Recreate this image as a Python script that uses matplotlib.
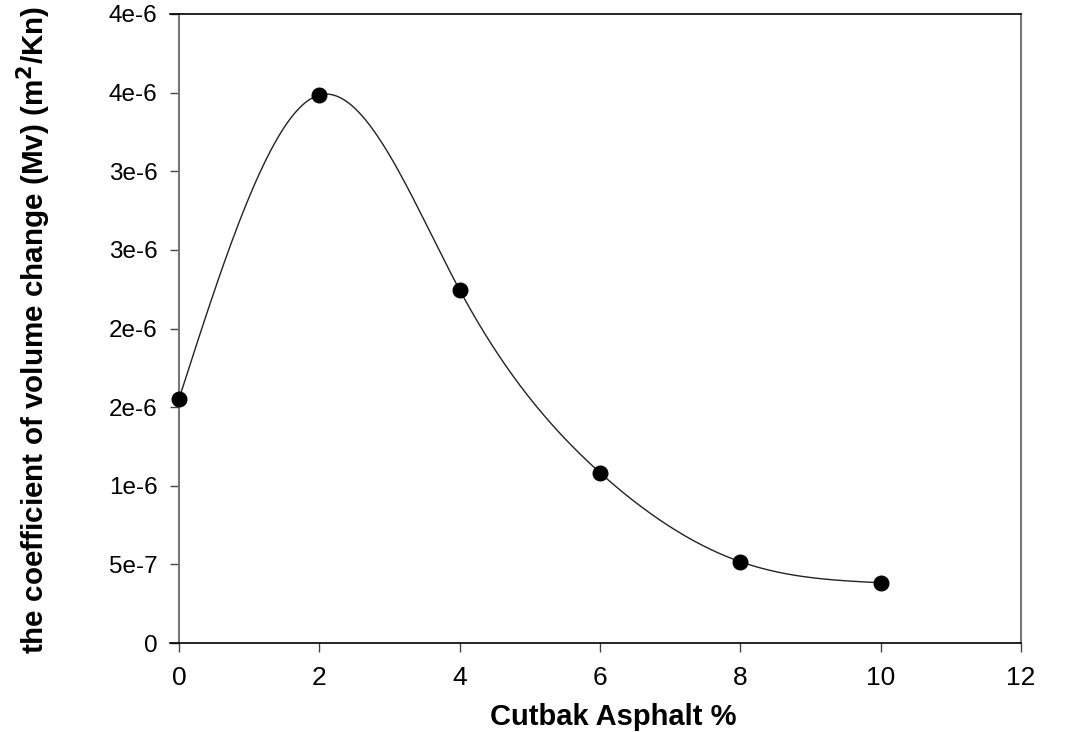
import numpy as np
import matplotlib
matplotlib.use('Agg')
import matplotlib.pyplot as plt

# Data
asphalt = [0, 2, 4, 6, 8, 10]
mv = [1.552e-6, 3.485e-6, 2.245e-6, 1.083e-6, 0.517e-6, 0.383e-6]

x_ticks = [0, 2, 4, 6, 8, 10, 12]
y_ticks = [0, 0.5e-6, 1.0e-6, 1.5e-6, 2.0e-6, 2.5e-6, 3.0e-6, 3.5e-6, 4.0e-6]
y_tick_labels = ['0', '5e-7', '1e-6', '2e-6', '2e-6', '3e-6', '3e-6', '4e-6', '4e-6']


def natural_spline(x, y, xs):
    # natural cubic spline through the points
    x = np.asarray(x, float)
    y = np.asarray(y, float)
    n = len(x)
    h = np.diff(x)
    A = np.zeros((n, n))
    b = np.zeros(n)
    A[0, 0] = 1
    A[-1, -1] = 1
    for i in range(1, n - 1):
        A[i, i - 1] = h[i - 1]
        A[i, i] = 2 * (h[i - 1] + h[i])
        A[i, i + 1] = h[i]
        b[i] = 3 * ((y[i + 1] - y[i]) / h[i] - (y[i] - y[i - 1]) / h[i - 1])
    c = np.linalg.solve(A, b)
    out = np.empty_like(xs)
    for k, xv in enumerate(xs):
        i = min(max(np.searchsorted(x, xv) - 1, 0), n - 2)
        dx = xv - x[i]
        bi = (y[i + 1] - y[i]) / h[i] - h[i] * (2 * c[i] + c[i + 1]) / 3
        di = (c[i + 1] - c[i]) / (3 * h[i])
        out[k] = y[i] + bi * dx + c[i] * dx ** 2 + di * dx ** 3
    return out


plt.rcParams['font.family'] = ['Liberation Sans', 'DejaVu Sans']
narrow = ['Liberation Sans Narrow', 'Liberation Sans']

fig = plt.figure(figsize=(10.68, 7.32), dpi=100)
ax = fig.add_axes([170 / 1068, 89 / 732, 851 / 1068, 629 / 732])

xs = np.linspace(0, 10, 400)
ax.plot(xs, natural_spline(asphalt, mv, xs), color='#222222', lw=1.0, zorder=2)
ax.plot(asphalt, mv, 'o', color='black', markersize=10.5, zorder=3, clip_on=False)

ax.set_xlim(-9 / 70.17, 12)
ax.set_ylim(0, 4e-6)

ax.spines['left'].set_position(('data', 0))
ax.spines['left'].set_color('#777777')
ax.spines['left'].set_linewidth(1.5)
ax.spines['right'].set_color('#777777')
ax.spines['right'].set_linewidth(1.5)
ax.spines['top'].set_linewidth(1.2)
ax.spines['bottom'].set_linewidth(1.2)

ax.set_xticks(x_ticks)
ax.set_xticklabels([str(t) for t in x_ticks], family=narrow, fontsize=19)
ax.set_yticks(y_ticks)
ax.set_yticklabels(y_tick_labels, fontsize=17.5)
ax.tick_params(axis='both', direction='out', length=6.5, width=1, color='#444444')
ax.tick_params(axis='x', pad=10)
ax.tick_params(axis='y', pad=9)

ax.set_xlabel('Cutbak Asphalt %', fontsize=21, fontweight='bold')
ax.xaxis.set_label_coords(0.521, -0.095)
ax.set_ylabel('the coefficient of volume change (Mv) (m$^\\mathbf{2}$/Kn)',
              fontsize=21.3, fontweight='bold')
ax.yaxis.set_label_coords(-0.137, 0.497)

fig.savefig('out.png', dpi=100)
